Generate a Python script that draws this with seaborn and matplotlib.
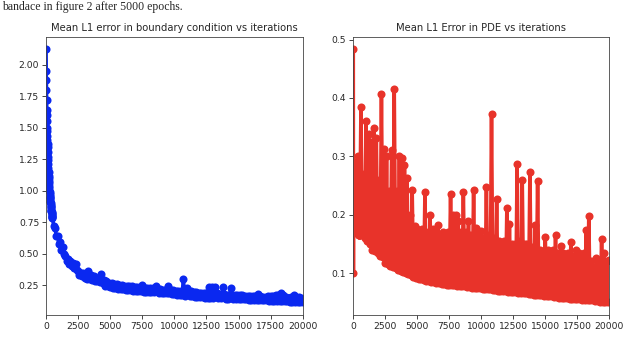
import numpy as np
import matplotlib
matplotlib.use("Agg")
import matplotlib.pyplot as plt
import seaborn as sns

# iterations: every 10 for the first 500, then every 100
iters = np.concatenate([np.arange(0, 500, 10), np.arange(500, 20001, 100)])

bc_early = [2.12, 1.95, 1.88, 1.80, 1.72, 1.64, 1.60, 1.55, 1.50, 1.47,
            1.43, 1.40, 1.37, 1.35, 1.31, 1.27, 1.24, 1.21, 1.18, 1.15,
            1.12, 1.10, 1.08, 1.06, 1.04, 1.02, 1.00, 0.99, 0.97, 0.96,
            0.95, 0.94, 0.93, 0.92, 0.91, 0.90, 0.89, 0.88, 0.87, 0.86,
            0.85, 0.84, 0.835, 0.83, 0.82, 0.815, 0.81, 0.80, 0.795, 0.79]
bc_late = [0.78, 0.72, 0.70, 0.64, 0.64, 0.58, 0.59, 0.53, 0.55, 0.50,
           0.48, 0.44, 0.46, 0.42, 0.44, 0.40, 0.43, 0.39, 0.42, 0.37,
           0.36, 0.33, 0.35, 0.32, 0.345, 0.31, 0.34, 0.30, 0.365, 0.30,
           0.33, 0.29, 0.32, 0.285, 0.31, 0.28, 0.30, 0.275, 0.335, 0.27,
           0.29, 0.245, 0.28, 0.24, 0.27, 0.235, 0.265, 0.23, 0.26, 0.225,
           0.26, 0.222, 0.255, 0.22, 0.25, 0.218, 0.245, 0.215, 0.245, 0.212,
           0.24, 0.21, 0.24, 0.207, 0.235, 0.205, 0.235, 0.203, 0.23, 0.20,
           0.25, 0.198, 0.23, 0.197, 0.225, 0.196, 0.225, 0.195, 0.225, 0.194,
           0.22, 0.245, 0.22, 0.19, 0.22, 0.188, 0.215, 0.187, 0.215, 0.186,
           0.24, 0.185, 0.21, 0.183, 0.21, 0.18, 0.205, 0.175, 0.205, 0.172,
           0.205, 0.17, 0.30, 0.168, 0.20, 0.23, 0.20, 0.165, 0.20, 0.163,
           0.195, 0.16, 0.195, 0.158, 0.19, 0.156, 0.19, 0.154, 0.19, 0.152,
           0.185, 0.15, 0.235, 0.15, 0.235, 0.148, 0.185, 0.235, 0.185, 0.146,
           0.18, 0.145, 0.18, 0.235, 0.18, 0.143, 0.175, 0.142, 0.175, 0.23,
           0.175, 0.14, 0.175, 0.14, 0.17, 0.139, 0.17, 0.138, 0.17, 0.137,
           0.165, 0.137, 0.165, 0.136, 0.165, 0.135, 0.165, 0.134, 0.165, 0.133,
           0.18, 0.132, 0.165, 0.131, 0.16, 0.13, 0.16, 0.129, 0.165, 0.128,
           0.165, 0.127, 0.165, 0.126, 0.17, 0.125, 0.175, 0.125, 0.19, 0.124,
           0.175, 0.123, 0.16, 0.122, 0.15, 0.12, 0.155, 0.12, 0.17, 0.118,
           0.16, 0.117, 0.155, 0.116, 0.15, 0.115]

pde_early = [0.483, 0.10, 0.285, 0.19, 0.26, 0.185, 0.29, 0.18, 0.25, 0.185,
             0.27, 0.18, 0.24, 0.178, 0.28, 0.176, 0.23, 0.175, 0.26, 0.174,
             0.22, 0.173, 0.27, 0.172, 0.24, 0.171, 0.25, 0.17, 0.22, 0.17,
             0.28, 0.169, 0.23, 0.168, 0.26, 0.168, 0.21, 0.167, 0.25, 0.167,
             0.30, 0.166, 0.24, 0.166, 0.27, 0.165, 0.22, 0.165, 0.26, 0.165]
pde_late = [0.17, 0.384, 0.165, 0.27, 0.16, 0.361, 0.155, 0.339, 0.15, 0.325,
            0.14, 0.348, 0.138, 0.332, 0.134, 0.26, 0.13, 0.407, 0.127, 0.312,
            0.118, 0.30, 0.115, 0.24, 0.112, 0.31, 0.11, 0.416, 0.108, 0.24,
            0.106, 0.30, 0.104, 0.297, 0.102, 0.285, 0.10, 0.263, 0.098, 0.20,
            0.096, 0.243, 0.094, 0.18, 0.092, 0.175, 0.09, 0.17, 0.089, 0.175,
            0.088, 0.239, 0.087, 0.17, 0.086, 0.199, 0.085, 0.175, 0.084, 0.17,
            0.083, 0.183, 0.083, 0.165, 0.082, 0.17, 0.081, 0.165, 0.08, 0.17,
            0.08, 0.236, 0.079, 0.20, 0.079, 0.20, 0.078, 0.19, 0.078, 0.17,
            0.077, 0.239, 0.077, 0.17, 0.076, 0.19, 0.076, 0.165, 0.075, 0.2415,
            0.075, 0.177, 0.074, 0.165, 0.074, 0.172, 0.073, 0.16, 0.073, 0.247,
            0.072, 0.165, 0.072, 0.373, 0.071, 0.16, 0.071, 0.226, 0.07, 0.155,
            0.07, 0.15, 0.069, 0.155, 0.069, 0.212, 0.068, 0.184, 0.068, 0.15,
            0.067, 0.15, 0.067, 0.287, 0.066, 0.155, 0.066, 0.26, 0.065, 0.15,
            0.065, 0.15, 0.064, 0.273, 0.064, 0.145, 0.063, 0.183, 0.063, 0.257,
            0.062, 0.14, 0.062, 0.135, 0.061, 0.162, 0.061, 0.14, 0.06, 0.135,
            0.06, 0.14, 0.059, 0.166, 0.059, 0.135, 0.058, 0.146, 0.058, 0.135,
            0.057, 0.13, 0.057, 0.135, 0.056, 0.153, 0.056, 0.13, 0.055, 0.14,
            0.055, 0.135, 0.055, 0.13, 0.054, 0.135, 0.054, 0.173, 0.054, 0.198,
            0.053, 0.12, 0.053, 0.11, 0.052, 0.125, 0.052, 0.12, 0.051, 0.158,
            0.051, 0.134, 0.05, 0.12, 0.05, 0.122]

bc_err = np.array(bc_early + bc_late)
pde_err = np.array(pde_early + pde_late)

sns.set_style("ticks")
plt.rcParams["font.family"] = ["DejaVu Sans"]
plt.rcParams["path.simplify"] = False  # keep the dense zigzag solid

fig = plt.figure(figsize=(6.4, 3.51), dpi=100)
ax1 = fig.add_axes([0.072, 0.103, 0.401, 0.792])
ax2 = fig.add_axes([0.552, 0.103, 0.400, 0.792])

blue = "#0a28f0"
red = "#e8332a"
for ax, y, col in [(ax1, bc_err, blue), (ax2, pde_err, red)]:
    sns.lineplot(x=iters, y=y, ax=ax, color=col, marker="o", markersize=5.8,
                 markeredgewidth=0, markeredgecolor=col, linewidth=2.6, sort=False)
    ax.set_xlim(0, 20000)
    ax.set_xticks([0, 2500, 5000, 7500, 10000, 12500, 15000, 17500, 20000])
    ax.tick_params(labelsize=6.6, length=3, width=0.6, pad=2)
    for s in ax.spines.values():
        s.set_linewidth(0.6)
        s.set_color("#444444")

ax1.set_yticks([0.25, 0.5, 0.75, 1.0, 1.25, 1.5, 1.75, 2.0])
ax1.set_yticklabels(["0.25", "0.50", "0.75", "1.00", "1.25", "1.50", "1.75", "2.00"])
ax2.set_yticks([0.1, 0.2, 0.3, 0.4, 0.5])

ax1.set_title("Mean L1 error in boundary condition vs iterations", fontsize=7.2, pad=4)
ax2.set_title("Mean L1 Error in PDE vs iterations", fontsize=7.2, pad=4)

# caption line of the page above the figure
fig.text(0.003, 0.998, "bandace in figure 2 after 5000 epochs.",
         family=["Liberation Serif"], fontsize=8.5, va="top", ha="left")

fig.savefig("out.png", dpi=100)
